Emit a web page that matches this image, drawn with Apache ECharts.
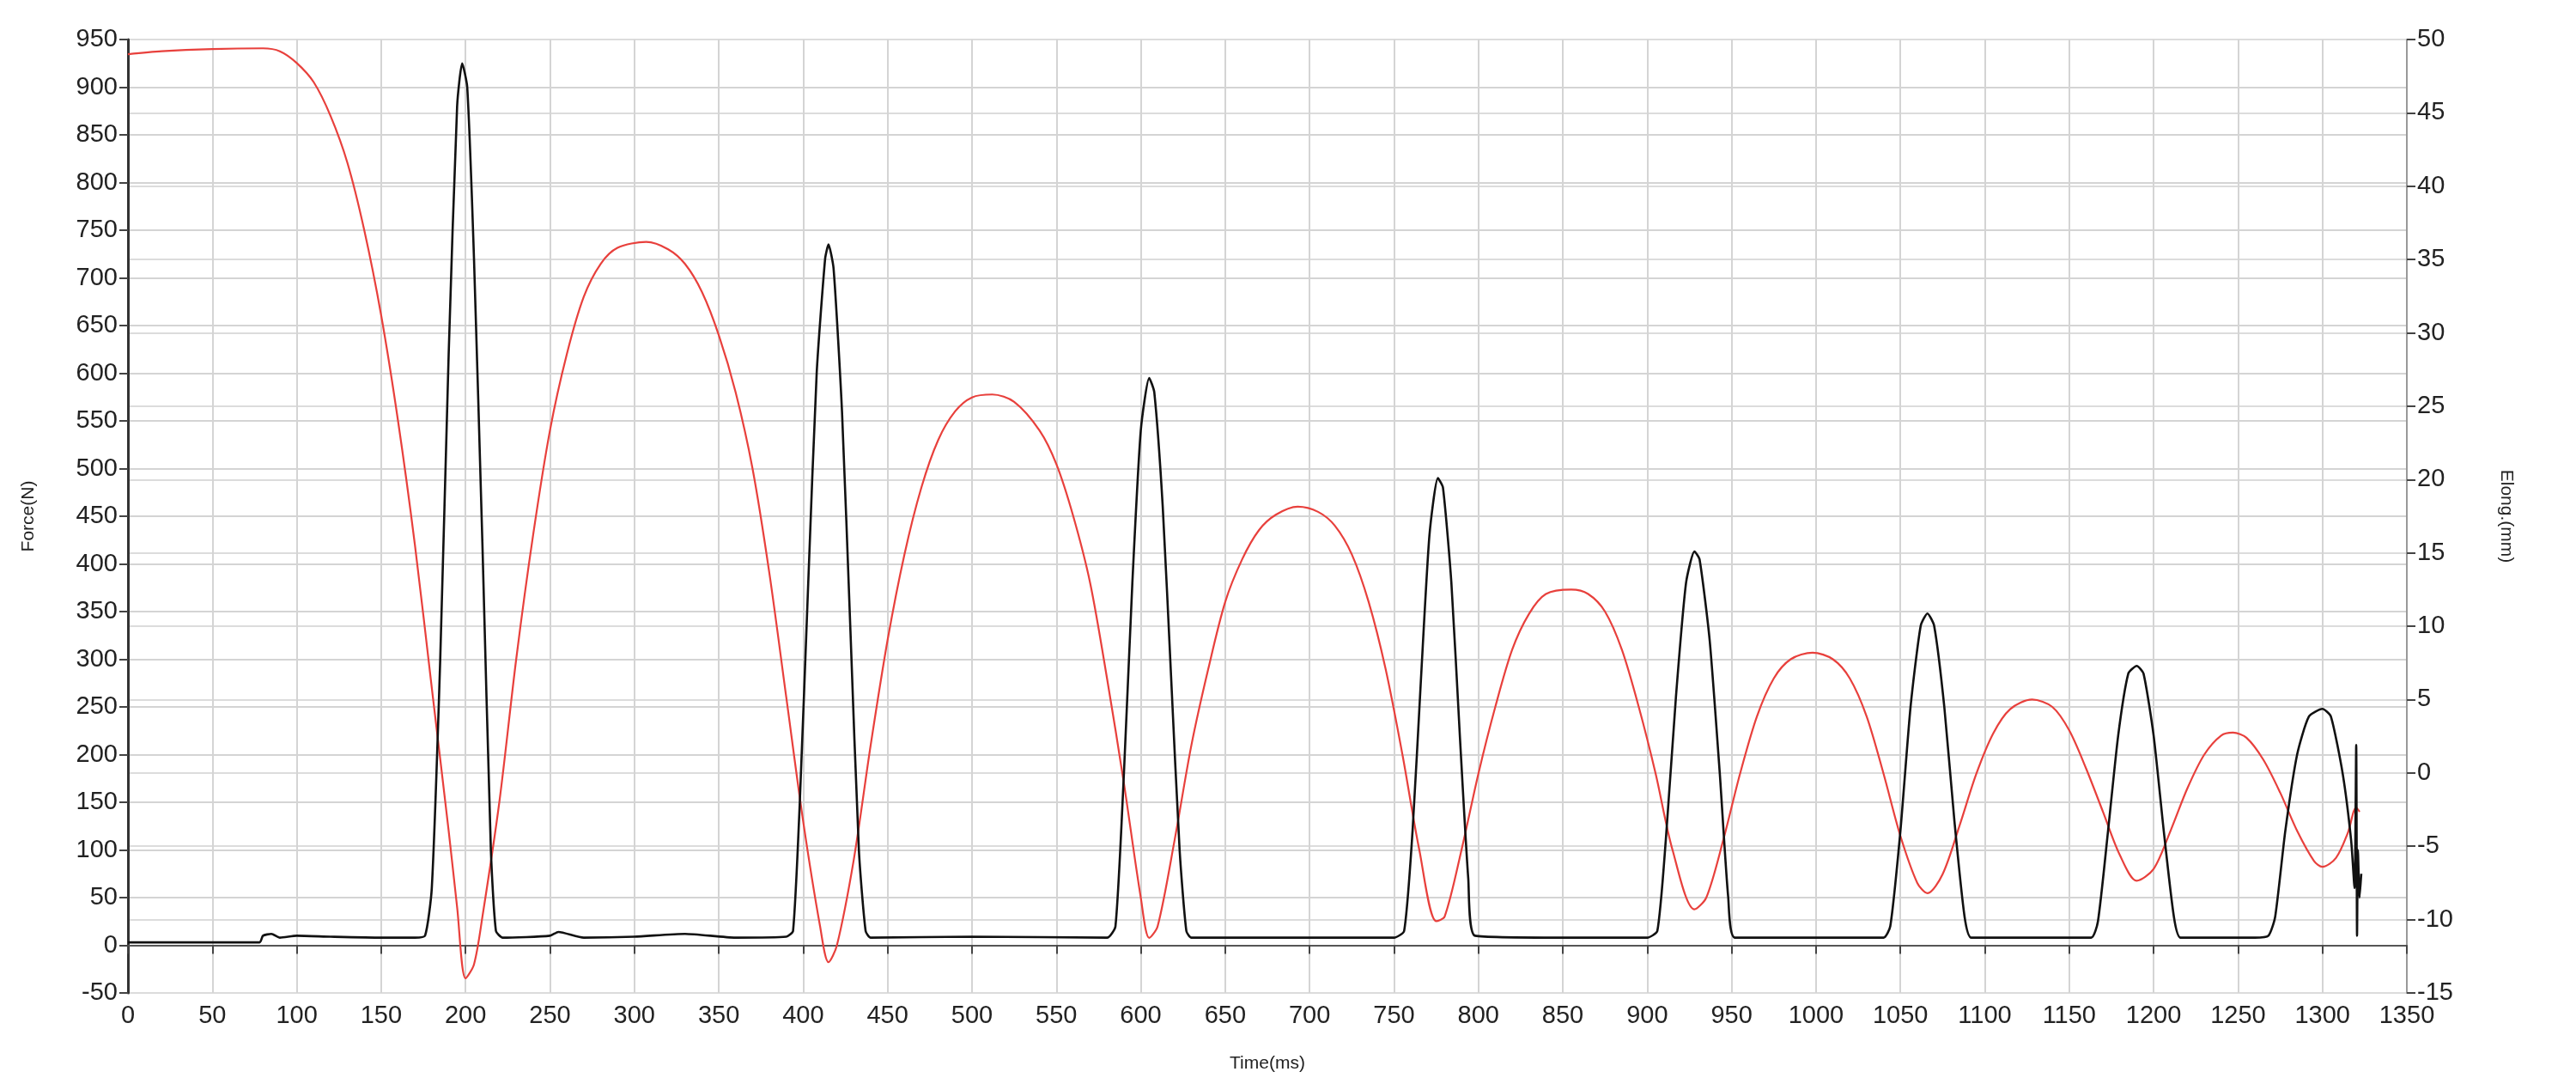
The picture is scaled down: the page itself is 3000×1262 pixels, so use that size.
<!DOCTYPE html>
<html><head><meta charset="utf-8">
<script src="https://cdn.jsdelivr.net/npm/echarts@6/dist/echarts.min.js"></script>
<style>html,body{margin:0;padding:0;background:#fff}#c{width:3000px;height:1262px}</style>
</head><body><div id="c"></div>
<script>
const timeTicksX = [0,50,100,150,200,250,300,350,400,450,500,550,600,650,700,750,800,850,900,950,1000,1050,1100,1150,1200,1250,1300,1350];
const elongTime = [0,20,50,80,90,100,110,120,130,140,150,160,170,180,190,195,200,205,210,220,230,240,250,260,270,280,290,307,320,330,340,350,360,370,380,390,400,410,415,420,430,440,450,460,470,480,490,500,512,525,540,550,560,570,580,590,600,605,610,620,630,640,650,660,670,680,693,705,715,725,735,745,755,765,775,780,790,800,810,820,830,840,855,865,875,885,895,905,915,928,935,945,955,965,975,985,998,1010,1020,1030,1040,1050,1060,1066,1075,1085,1095,1105,1115,1128,1140,1150,1160,1170,1180,1190,1200,1210,1220,1230,1240,1247,1255,1265,1275,1285,1295,1300,1308,1315,1320,1322];
const elongMM = [49.0,49.2,49.35,49.4,49.2,48.4,47.1,44.8,41.6,37.0,31.2,24.0,15.55,5.8,-3.95,-9.15,-14.0,-13.05,-9.8,-2.0,7.75,16.2,23.35,28.55,32.45,34.7,35.8,36.2,35.7,34.7,32.8,29.85,25.95,20.75,13.6,5.15,-3.3,-10.45,-12.9,-11.75,-5.9,1.9,9.05,14.9,19.45,22.7,24.65,25.6,25.8,25.3,23.35,21.05,17.5,12.95,6.45,-0.7,-8.5,-11.25,-10.45,-4.6,1.9,7.1,11.65,14.55,16.55,17.6,18.15,17.8,16.85,14.9,11.65,7.1,1.25,-5.25,-10.1,-9.8,-5.25,-0.05,4.5,8.4,10.85,12.2,12.5,12.2,11.0,8.4,4.5,-0.05,-5.25,-9.3,-8.5,-4.6,-0.05,3.85,6.45,7.75,8.2,7.75,6.45,3.85,-0.05,-4.3,-7.5,-8.2,-6.9,-3.6,-0.05,2.7,4.35,5.0,4.5,2.9,0.3,-2.65,-5.6,-7.35,-6.55,-3.95,-1.05,1.25,2.55,2.75,2.4,0.9,-1.35,-3.95,-6.0,-6.4,-5.8,-4.1,-2.35,-2.65];
const forceTime = [0,40,78,80,85,90,100,120,150,170,176,180,185,190,195,198,201,205,210,215,218,222,250,255,270,300,330,360,390,394,398,403,408,413,415,418,423,428,433,437,440,500,580,585,590,595,600,605,608,613,618,623,627,630,700,750,756,761,766,771,776,779,784,789,794,798,850,900,906,911,917,923,928,931,937,943,948,952,1000,1040,1044,1050,1056,1062,1066,1070,1076,1082,1088,1092,1130,1163,1167,1173,1179,1185,1190,1194,1200,1206,1212,1216,1260,1268,1272,1278,1285,1292,1300,1305,1312,1317,1319,1320,1320.5,1321,1322,1323];
const forceN = [3,3,3,10,12,8,10,9,8,8,10,60,300,620,880,925,900,720,420,100,15,8,10,14,8,9,12,8,9,15,150,380,600,720,735,710,560,330,100,15,8,9,8,20,180,380,540,595,580,460,280,100,15,8,8,8,15,120,280,430,490,480,380,220,70,10,8,8,15,110,260,380,413,405,320,180,50,8,8,8,20,120,250,335,348,335,250,130,30,8,8,8,25,120,220,285,293,285,220,120,30,8,8,10,30,120,200,240,248,240,180,110,60,210,10,100,50,75];

const redData = elongTime.map((t,i)=>[t, elongMM[i]]);
const blackData = forceTime.map((t,i)=>[t, forceN[i]]);
const FF = 'Liberation Sans, Arial, sans-serif';
const lab = {color:'#222', fontSize:29, fontFamily:FF, formatter:v=>String(v)};
const nameStyle = {fontSize:21,color:'#222',fontFamily:FF};
const chart = echarts.init(document.getElementById('c'));
chart.setOption({
  animation:false,
  grid:{left:149,right:197,top:46,bottom:106,show:true,borderColor:'#555',borderWidth:2},
  xAxis:{type:'value',min:0,max:1350,interval:50,name:'Time(ms)',nameLocation:'middle',nameGap:72,
    nameTextStyle:nameStyle,
    axisLine:{lineStyle:{color:'#555',width:2}},axisTick:{show:true,length:10,lineStyle:{color:'#444',width:2}},
    axisLabel:Object.assign({margin:12},lab),
    splitLine:{show:true,lineStyle:{color:'#d4d4d4',width:2}}},
  yAxis:[
    {type:'value',min:-50,max:950,interval:50,position:'left',name:'Force(N)',nameLocation:'middle',nameGap:105,nameRotate:90,
     nameTextStyle:nameStyle,
     axisLine:{show:true,lineStyle:{color:'#333',width:3}},axisTick:{show:true,length:10,lineStyle:{color:'#444',width:2}},
     axisLabel:Object.assign({margin:12},lab),
     splitLine:{show:true,lineStyle:{color:'#d4d4d4',width:2}}},
    {type:'value',min:-15,max:50,interval:5,position:'right',name:'Elong.(mm)',nameLocation:'middle',nameGap:105,nameRotate:-90,
     nameTextStyle:nameStyle,
     axisLine:{show:true,lineStyle:{color:'#999',width:2}},axisTick:{show:true,length:10,lineStyle:{color:'#444',width:2}},
     axisLabel:Object.assign({margin:12},lab),
     splitLine:{show:true,lineStyle:{color:'#dcdcdc',width:2}}}
  ],
  series:[
    {type:'line',yAxisIndex:1,data:redData,smooth:0.3,showSymbol:false,lineStyle:{color:'#e8403c',width:2.2}},
    {type:'line',yAxisIndex:0,data:blackData,smooth:0.2,showSymbol:false,lineStyle:{color:'#111',width:2.6}}
  ]
});
</script></body></html>
